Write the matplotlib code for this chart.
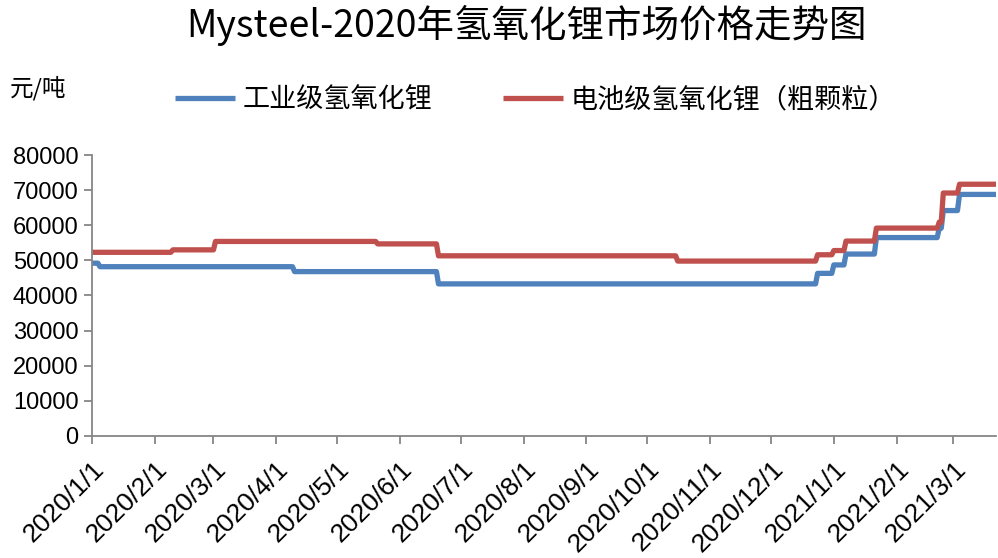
import pandas as pd
import matplotlib
matplotlib.use('Agg')
import matplotlib.pyplot as plt
import matplotlib.dates as mdates

plt.rcParams['font.family'] = ['Noto Sans CJK SC', 'DejaVu Sans']
plt.rcParams['axes.unicode_minus'] = False

# price change points (date the new price starts), yuan/ton
ind_dates = ['2020-01-01', '2020-01-05', '2020-04-10', '2020-06-20', '2020-12-24',
             '2021-01-01', '2021-01-07', '2021-01-22', '2021-02-22', '2021-02-24',
             '2021-03-04']
ind_values = [49200, 48200, 46800, 43300, 46300, 48700, 51800, 56500, 59200, 64200, 68800]

bat_dates = ['2020-01-01', '2020-02-10', '2020-03-02', '2020-05-21', '2020-06-20',
             '2020-10-16', '2020-12-24', '2021-01-01', '2021-01-07', '2021-01-22',
             '2021-02-22', '2021-02-24', '2021-03-04']
bat_values = [52300, 53000, 55400, 54700, 51300, 49800, 51600, 52800, 55500, 59200,
              60900, 69200, 71700]

start_date = '2020-01-01'
end_date = '2021-03-22'
series_names = ['工业级氢氧化锂', '电池级氢氧化锂（粗颗粒）']
title = 'Mysteel-2020年氢氧化锂市场价格走势图'
unit = '元/吨'


def daily(dates, values):
    s = pd.Series(values, index=pd.to_datetime(dates))
    idx = pd.date_range(start_date, end_date, freq='D')
    return s.reindex(idx).ffill()


ind = daily(ind_dates, ind_values)
bat = daily(bat_dates, bat_values)

fig = plt.figure(figsize=(9.98, 5.58), dpi=100)
ax = fig.add_axes([0.092, 0.219, 0.906, 0.503])

l1, = ax.plot(ind.index, ind.values, color='#4F81BD', lw=3.8, solid_capstyle='butt')
l2, = ax.plot(bat.index, bat.values, color='#C0504D', lw=3.8, solid_capstyle='butt')

ax.set_xlim(pd.Timestamp(start_date), pd.Timestamp(end_date))
ax.set_ylim(0, 80000)
ax.set_yticks(range(0, 80001, 10000))

ax.xaxis.set_major_locator(mdates.MonthLocator())
ax.xaxis.set_major_formatter(
    matplotlib.ticker.FuncFormatter(
        lambda x, pos: (lambda d: f'{d.year}/{d.month}/{d.day}')(mdates.num2date(x))))

for sp in ['top', 'right']:
    ax.spines[sp].set_visible(False)
for sp in ['left', 'bottom']:
    ax.spines[sp].set_color('#868686')
    ax.spines[sp].set_linewidth(1.3)
ax.tick_params(axis='both', colors='#868686', length=6, width=1.3, labelcolor='black')
ax.tick_params(axis='x', pad=9)
for lab in ax.get_yticklabels():
    lab.set_fontfamily('Liberation Sans')
    lab.set_fontsize(17)
for lab in ax.get_xticklabels():
    lab.set_fontfamily('Liberation Sans')
    lab.set_fontsize(19)
    lab.set_rotation(45)
    lab.set_ha('right')
    lab.set_va('top')
    lab.set_rotation_mode('anchor')

fig.text(0.528, 0.955, title, ha='center', va='center', fontsize=27)
fig.text(0.01, 0.842, unit, ha='left', va='center', fontsize=17)
fig.legend([l1, l2], series_names, loc='center', bbox_to_anchor=(0.537, 0.821),
           ncol=2, frameon=False, fontsize=19.5, handlelength=2.2,
           handletextpad=0.3, columnspacing=2.6)

fig.savefig('out.png', dpi=100)
